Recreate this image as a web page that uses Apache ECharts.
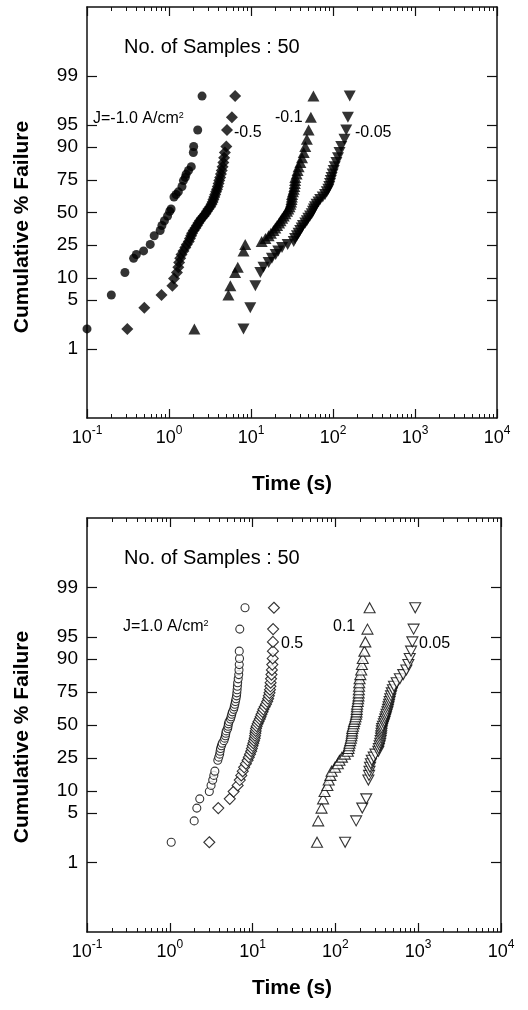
<!DOCTYPE html>
<html><head><meta charset="utf-8">
<script src="https://cdn.jsdelivr.net/npm/echarts@6/dist/echarts.min.js"></script>
<style>html,body{margin:0;padding:0;background:#fff}#c{width:528px;height:1010px}</style>
</head><body><div id="c"></div>
<script>
// ---- tick definitions ----
const yTickPercents = [1, 5, 10, 25, 50, 75, 90, 95, 99];
const xMajorTicks = [0.1, 1, 10, 100, 1000, 10000];
const xMinorMultipliers = [2, 3, 4, 5, 6, 7, 8, 9];
const samplesText = 'No. of Samples : 50';

// ---- data: [time (s), cumulative % failure] ----
// Top panel (negative current density), filled symbols
const topJm1_0 = [[0.10,1.96],[0.198,5.88],[0.29,11.76],[0.37,17.65],[0.40,19.61],[0.49,21.57],[0.59,25.49],[0.66,31.37],[0.78,35.29],[0.82,39.22],[0.88,43.14],[0.96,47.06],[1.02,50.98],[1.06,52.94],[1.15,62.75],[1.22,64.71],[1.30,66.67],[1.44,70.59],[1.50,74.51],[1.58,76.47],[1.62,78.43],[1.73,80.39],[1.87,82.35],[1.98,88.24],[2.00,90.20],[2.24,94.12],[2.53,98.04]];
const topJm0_5 = [[0.31,1.96],[0.50,3.92],[0.81,5.88],[1.10,7.84],[1.15,9.80],[1.25,11.76],[1.30,13.73],[1.33,15.69],[1.37,17.65],[1.42,19.61],[1.50,21.57],[1.58,23.53],[1.65,25.49],[1.74,27.45],[1.80,29.41],[1.86,31.37],[1.91,33.33],[2.00,35.29],[2.10,37.25],[2.19,39.22],[2.28,41.18],[2.38,43.14],[2.50,45.10],[2.65,47.06],[2.78,49.02],[2.90,50.98],[3.02,52.94],[3.18,54.90],[3.30,56.86],[3.40,58.82],[3.48,60.78],[3.57,62.75],[3.66,64.71],[3.75,66.67],[3.85,68.63],[3.94,70.59],[4.02,72.55],[4.10,74.51],[4.20,76.47],[4.30,78.43],[4.40,80.39],[4.50,82.35],[4.60,84.31],[4.70,86.27],[4.80,88.24],[5.00,90.20],[5.10,94.12],[5.85,96.08],[6.40,98.04]];
const topJm0_1 = [[2.04,1.96],[5.3,5.88],[5.6,7.84],[6.4,11.76],[6.9,13.73],[8.1,21.57],[8.5,25.49],[13.5,27.45],[15.0,29.41],[16.4,31.37],[17.5,33.33],[18.8,35.29],[19.8,37.25],[20.8,39.22],[22.0,41.18],[22.9,43.14],[24.0,45.10],[25.1,47.06],[26.3,49.02],[27.5,50.98],[28.5,52.94],[29.5,54.90],[30.2,56.86],[30.8,58.82],[31.2,60.78],[31.5,62.75],[31.7,64.71],[32.5,66.67],[33.2,68.63],[33.8,70.59],[34.2,72.55],[34.5,74.51],[34.7,76.47],[36.0,78.43],[37.0,80.39],[38.1,82.35],[40.0,84.31],[41.9,86.27],[44.0,88.24],[45.9,90.20],[48.0,92.16],[50.4,94.12],[53.7,96.08],[57.7,98.04]];
const topJm0_05 = [[8.1,1.96],[9.8,3.92],[11.3,7.84],[13.0,11.76],[14.2,13.73],[16.4,15.69],[18.0,17.65],[20.0,19.61],[21.5,21.57],[23.9,23.53],[28.0,25.49],[33.2,27.45],[34.5,29.41],[36.3,31.37],[38.0,33.33],[39.8,35.29],[41.5,37.25],[43.0,39.22],[45.9,41.18],[48.0,43.14],[50.0,45.10],[52.5,47.06],[55.0,49.02],[57.0,50.98],[58.5,52.94],[60.3,54.90],[63.0,56.86],[66.5,58.82],[69.8,60.78],[75.0,62.75],[80.0,64.71],[84.0,66.67],[87.7,68.63],[90.0,70.59],[92.0,72.55],[94.0,74.51],[96.1,76.47],[99.0,78.43],[102,80.39],[105,82.35],[110,84.31],[115,86.27],[120,88.24],[126,90.20],[138,92.16],[145,94.12],[152,96.08],[160,98.04]];

// Bottom panel (positive current density), open symbols
const botJ1_0 = [[1.04,1.96],[1.97,3.92],[2.12,5.88],[2.3,7.84],[3.0,9.80],[3.15,11.76],[3.3,13.73],[3.4,15.69],[3.5,17.65],[3.8,23.53],[3.9,25.49],[4.0,27.45],[4.05,29.41],[4.1,31.37],[4.2,33.33],[4.3,35.29],[4.5,37.25],[4.6,39.22],[4.7,41.18],[4.75,43.14],[4.8,45.10],[5.0,47.06],[5.05,49.02],[5.1,50.98],[5.2,52.94],[5.4,54.90],[5.5,56.86],[5.6,58.82],[5.7,60.78],[5.9,62.75],[6.0,64.71],[6.1,66.67],[6.2,68.63],[6.3,70.59],[6.4,72.55],[6.45,74.51],[6.5,76.47],[6.55,78.43],[6.6,80.39],[6.7,82.35],[6.8,84.31],[6.85,86.27],[6.9,88.24],[6.95,90.20],[6.9,92.16],[7.0,96.08],[8.1,98.04]];
const botJ0_5 = [[3.0,1.96],[3.85,5.88],[5.3,7.84],[5.9,9.80],[6.6,11.76],[7.0,13.73],[7.3,15.69],[7.6,17.65],[7.9,19.61],[8.3,21.57],[8.7,23.53],[9.0,25.49],[9.3,27.45],[9.6,29.41],[9.8,31.37],[10.0,33.33],[10.2,35.29],[10.4,37.25],[10.6,39.22],[10.7,41.18],[10.8,43.14],[10.9,45.10],[11.0,47.06],[11.2,49.02],[11.5,50.98],[11.8,52.94],[12.2,54.90],[12.5,56.86],[12.8,58.82],[13.2,60.78],[13.5,62.75],[14.0,64.71],[14.5,66.67],[15.0,68.63],[15.4,70.59],[15.7,72.55],[16.0,74.51],[16.2,76.47],[16.4,78.43],[16.5,80.39],[16.7,82.35],[16.9,84.31],[17.1,86.27],[17.3,88.24],[17.5,90.20],[17.6,92.16],[17.6,94.12],[17.7,96.08],[18.1,98.04]];
const botJ0_1 = [[60,1.96],[62,3.92],[68,5.88],[71,7.84],[74,9.80],[80,11.76],[83,13.73],[87,15.69],[90,17.65],[99,19.61],[107,21.57],[112,23.53],[120,25.49],[130,27.45],[141,29.41],[144,31.37],[146,33.33],[148,35.29],[151,37.25],[154,39.22],[156,41.18],[158,43.14],[159,45.10],[160,47.06],[163,49.02],[166,50.98],[168,52.94],[172,54.90],[175,56.86],[178,58.82],[180,60.78],[181,62.75],[182,64.71],[183,66.67],[186,68.63],[188,70.59],[190,72.55],[191,74.51],[192,76.47],[193,78.43],[194,80.39],[196,82.35],[200,84.31],[205,86.27],[209,88.24],[214,90.20],[224,92.16],[230,94.12],[244,96.08],[259,98.04]];
const botJ0_05 = [[131,1.96],[178,3.92],[211,5.88],[236,7.84],[250,13.73],[255,15.69],[258,17.65],[262,19.61],[268,21.57],[275,23.53],[290,25.49],[305,27.45],[330,29.41],[335,31.37],[342,33.33],[348,35.29],[352,37.25],[356,39.22],[358,41.18],[361,43.14],[364,45.10],[367,47.06],[375,49.02],[385,50.98],[392,52.94],[400,54.90],[408,56.86],[415,58.82],[425,60.78],[432,62.75],[438,64.71],[445,66.67],[452,68.63],[460,70.59],[470,72.55],[480,74.51],[495,76.47],[510,78.43],[550,80.39],[600,82.35],[660,84.31],[720,86.27],[760,88.24],[790,90.20],[820,92.16],[850,94.12],[880,96.08],[920,98.04]];

// ---- probability-paper transform (logit scale) ----
const logit = p => Math.log(p / (100 - p));
const toPlot = arr => arr.map(([t, f]) => [t, logit(f)]);
const Y_MIN = logit(0.1), Y_MAX = logit(99.9);
const yTickVals = yTickPercents.map(logit);
const xMinorTicks = [];
for (let d = -1; d < 4; d++) xMinorMultipliers.forEach(m => xMinorTicks.push(m * Math.pow(10, d)));

const FONT = '"Liberation Sans", Arial, Helvetica, sans-serif';
const AX = '#111';

function xAxesFor(g) {
  const base = {
    type: 'log', logBase: 10, min: 0.1, max: 10000, gridIndex: g,
    splitLine: { show: false }, minorTick: { show: false }
  };
  const line = { show: true, onZero: false, lineStyle: { color: AX, width: 1.5 } };
  const noLine = { show: false, onZero: false };
  return [
    Object.assign({}, base, {
      position: 'bottom',
      axisLine: line,
      axisTick: { show: true, inside: true, length: 9, customValues: xMajorTicks, lineStyle: { color: AX, width: 1.2 } },
      axisLabel: {
        show: true, customValues: xMajorTicks, margin: 7, color: '#000',
        formatter: v => '{b|10}{s|' + Math.round(Math.log10(v)) + '}',
        rich: {
          b: { fontSize: 18, fontFamily: FONT, lineHeight: 22, verticalAlign: 'bottom', color: '#000' },
          s: { fontSize: 12, fontFamily: FONT, lineHeight: 12, verticalAlign: 'top', color: '#000' }
        }
      }
    }),
    Object.assign({}, base, {
      position: 'bottom',
      axisLine: noLine,
      axisTick: { show: true, inside: true, length: 4, customValues: xMinorTicks, lineStyle: { color: AX, width: 1 } },
      axisLabel: { show: false }
    }),
    Object.assign({}, base, {
      position: 'top',
      axisLine: line,
      axisTick: { show: true, inside: true, length: 9, customValues: xMajorTicks, lineStyle: { color: AX, width: 1.2 } },
      axisLabel: { show: false }
    }),
    Object.assign({}, base, {
      position: 'top',
      axisLine: noLine,
      axisTick: { show: true, inside: true, length: 4, customValues: xMinorTicks, lineStyle: { color: AX, width: 1 } },
      axisLabel: { show: false }
    })
  ];
}
function yAxesFor(g) {
  const base = {
    type: 'value', min: Y_MIN, max: Y_MAX, gridIndex: g,
    splitLine: { show: false },
    axisLine: { show: true, onZero: false, lineStyle: { color: AX, width: 1.5 } },
    axisTick: { show: true, inside: true, length: 10, customValues: yTickVals, lineStyle: { color: AX, width: 1.2 } }
  };
  return [
    Object.assign({}, base, {
      position: 'left',
      axisLabel: {
        show: true, customValues: yTickVals, margin: 9, color: '#000', fontSize: 19, fontFamily: FONT,
        formatter: v => String(Math.round(100 / (1 + Math.exp(-v))))
      }
    }),
    Object.assign({}, base, { position: 'right', axisLabel: { show: false } })
  ];
}

function sc(data, g, symbol, size, filled, rotate) {
  return {
    type: 'scatter', xAxisIndex: g * 4, yAxisIndex: g * 2,
    data: toPlot(data), symbol: symbol, symbolSize: size, symbolRotate: rotate || 0,
    itemStyle: filled ? { color: '#000', borderWidth: 0 } : { color: '#fff', borderColor: '#000', borderWidth: 1.1 },
    emphasis: { disabled: true }, silent: true, animation: false
  };
}

function txt(x, y, text, size, opts) {
  return Object.assign({
    type: 'text', x: x, y: y,
    style: Object.assign({
      text: text, fontSize: size, fontFamily: FONT, fill: '#000',
      textAlign: 'left', textVerticalAlign: 'middle',
      rich: { sup: { fontSize: 9, fontFamily: FONT, verticalAlign: 'top', lineHeight: 9, fill: '#000' } }
    }, (opts && opts.style) || {})
  }, (opts && opts.el) || {});
}

const chart = echarts.init(document.getElementById('c'), null, { renderer: 'canvas' });
chart.setOption({
  backgroundColor: '#fff',
  animation: false,
  grid: [
    { left: 87, top: 7, width: 410, height: 411 },
    { left: 87, top: 518, width: 414, height: 414 }
  ],
  xAxis: xAxesFor(0).concat(xAxesFor(1)),
  yAxis: yAxesFor(0).concat(yAxesFor(1)),
  series: [
    sc(topJm1_0, 0, 'circle', 9, true),
    sc(topJm0_5, 0, 'diamond', 12, true),
    sc(topJm0_1, 0, 'triangle', [12, 11], true),
    sc(topJm0_05, 0, 'triangle', [12, 11], true, 180),
    sc(botJ1_0, 1, 'circle', 8, false),
    sc(botJ0_5, 1, 'diamond', 11, false),
    sc(botJ0_1, 1, 'triangle', [11, 10], false),
    sc(botJ0_05, 1, 'triangle', [11, 10], false, 180)
  ],
  graphic: [
    txt(124, 47, samplesText, 20),
    txt(93, 119, 'J=-1.0 A/cm{sup|2}', 16),
    txt(234, 133, '-0.5', 16),
    txt(275, 118, '-0.1', 16),
    txt(355, 133, '-0.05', 16),
    txt(22, 227, 'Cumulative % Failure', 21, { style: { fontWeight: 'bold', textAlign: 'center' }, el: { rotation: Math.PI / 2 } }),
    txt(292, 484, 'Time (s)', 21, { style: { fontWeight: 'bold', textAlign: 'center' } }),

    txt(124, 558, samplesText, 20),
    txt(123, 627, 'J=1.0 A/cm{sup|2}', 16),
    txt(281, 644, '0.5', 16),
    txt(333, 627, '0.1', 16),
    txt(419, 644, '0.05', 16),
    txt(22, 737, 'Cumulative % Failure', 21, { style: { fontWeight: 'bold', textAlign: 'center' }, el: { rotation: Math.PI / 2 } }),
    txt(292, 988, 'Time (s)', 21, { style: { fontWeight: 'bold', textAlign: 'center' } })
  ]
});
</script></body></html>
